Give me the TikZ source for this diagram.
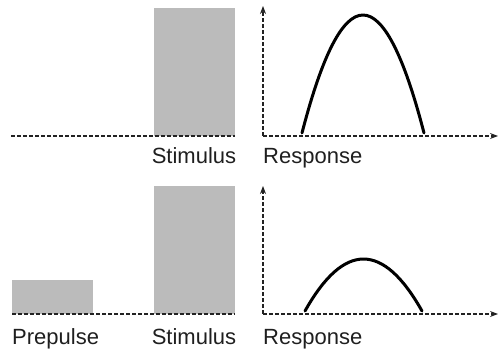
\documentclass[tikz,border=0pt]{standalone}
\usepackage{fontspec}
\setmainfont{Liberation Sans}
\usetikzlibrary{arrows.meta}
\definecolor{barfill}{HTML}{BBBBBB}
\definecolor{axiscol}{HTML}{222222}
\begin{document}
\begin{tikzpicture}[x=1pt,y=-1pt,
  bar/.style={fill=barfill,draw=none},
  baseline dash/.style={draw=axiscol,line width=1.2pt,dash pattern=on 3.5pt off 2.5pt},
  axisline/.style={draw=axiscol,line width=1.2pt,dash pattern=on 3.5pt off 2.5pt,-{Stealth[length=8pt,width=6pt]}},
  resp/.style={draw=black,line width=3pt,line cap=round},
  lbl/.style={inner sep=0pt,font=\fontsize{22}{24}\selectfont,text=black!88}]
\useasboundingbox (0,0) rectangle (501,352);
% ---- top panel ----
\path[bar] (154,8) rectangle (235,136);
\coordinate (tb0) at (11,136);
\coordinate (tb1) at (235,136);
\draw[baseline dash] (tb0) -- (tb1);
\coordinate (to) at (263,136);
\coordinate (ty) at (263,6);
\coordinate (tx) at (498,136);
\draw[axisline] (to) -- (ty);
\draw[axisline] (to) -- (tx);
\coordinate (tc0) at (302,133);
\coordinate (tc1) at (424,133);
\draw[resp] (tc0) .. controls (342.7,-24.3) and (383.3,-24.3) .. (tc1);
\node[lbl,anchor=base] (tstim) at (194,164) {Stimulus};
\node[lbl,anchor=base west] (tresp) at (263,164) {Response};
% ---- bottom panel ----
\path[bar] (12,280) rectangle (93,314);
\path[bar] (154,186) rectangle (235,314);
\coordinate (bb0) at (12,314);
\coordinate (bb1) at (235,314);
\draw[baseline dash] (bb0) -- (bb1);
\coordinate (bo) at (263,314);
\coordinate (by) at (263,186);
\coordinate (bx) at (498,314);
\draw[axisline] (bo) -- (by);
\draw[axisline] (bo) -- (bx);
\coordinate (bc0) at (305,311);
\coordinate (bc1) at (422,311);
\draw[resp] (bc0) .. controls (344,241.7) and (383,241.7) .. (bc1);
\node[lbl,anchor=base west] (bpre) at (12,345) {Prepulse};
\node[lbl,anchor=base] (bstim) at (194,345) {Stimulus};
\node[lbl,anchor=base west] (bresp) at (263,345) {Response};
\end{tikzpicture}
\end{document}
